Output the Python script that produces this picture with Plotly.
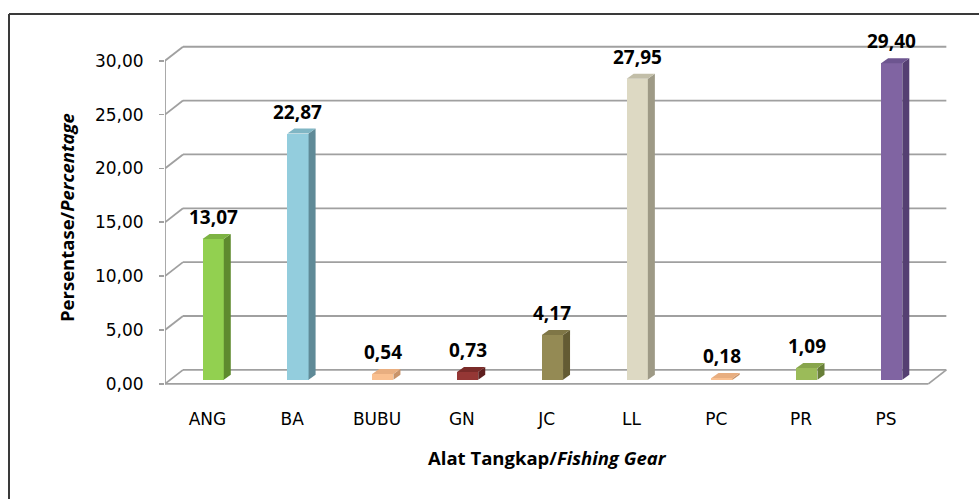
import plotly.graph_objects as go

# ---- data ----
categories = ["ANG", "BA", "BUBU", "GN", "JC", "LL", "PC", "PR", "PS"]
values = [13.07, 22.87, 0.54, 0.73, 4.17, 27.95, 0.18, 1.09, 29.40]
value_labels = ["13,07", "22,87", "0,54", "0,73", "4,17", "27,95", "0,18", "1,09", "29,40"]
y_ticks = [0, 5, 10, 15, 20, 25, 30]
y_tick_labels = ["0,00", "5,00", "10,00", "15,00", "20,00", "25,00", "30,00"]

front_colors = ["#92D050", "#93CDDD", "#FAC090", "#953735", "#948A54",
                "#DDD9C3", "#FAC090", "#9BBB59", "#8064A2"]
side_colors = ["#5E8A2E", "#5F8A97", "#C8936A", "#5E1F1E", "#635B33",
               "#9E9A86", "#C8936A", "#687F38", "#553F72"]
top_colors = ["#7DB343", "#80B6C4", "#E8AE80", "#7A2B29", "#7F7646",
              "#C2BEA8", "#E8AE80", "#88A54C", "#6D5590"]

# ---- layout geometry ----
W, H = 979, 499
ML, MR, MT, MB = 165, 32, 45, 113
XR = [-0.5, 8.72]
YR = [-0.2, 31.46]
pw, ph = W - ML - MR, H - MT - MB
kx = pw / (XR[1] - XR[0])
ky = ph / (YR[1] - YR[0])

DX = 18 / kx      # depth of wall (x units)
DY = 14 / ky      # depth of wall (y units)
BOFF_X = 0.068    # bar front offset from category centre
BASE = 4 / ky     # bar base lift (mid-depth)
BW = 0.25         # bar front width
BDX = 7 / kx      # bar depth x
BDY = 5 / ky      # bar depth y

GRID = "#A0A0A0"
shapes = []

def line(x0, y0, x1, y1, color=GRID, width=1.8):
    shapes.append(dict(type="line", xref="x", yref="y", x0=x0, y0=y0, x1=x1, y1=y1,
                       line=dict(color=color, width=width), layer="below"))

x_left = XR[0]
x_right = len(categories) - 0.5
for v in y_ticks:
    line(x_left + DX, v + DY, x_right + DX, v + DY)      # back wall gridline
    line(x_left, v, x_left + DX, v + DY)                  # side wall diagonal
line(x_left, 0, x_left, y_ticks[-1])                      # front value axis
line(x_left, 0, x_right, 0)                               # floor front edge
line(x_right, 0, x_right + DX, DY)                        # floor right edge

fig = go.Figure()

# front faces of bars
xs = [i + BOFF_X for i in range(len(categories))]
fig.add_trace(go.Bar(x=xs, y=values, base=[BASE] * len(values), width=BW,
                     marker=dict(color=front_colors, line=dict(width=0)),
                     hoverinfo="skip", showlegend=False))

annotations = []
for i, v in enumerate(values):
    x0 = xs[i] - BW / 2
    x1 = xs[i] + BW / 2
    yb = BASE
    yt = BASE + v
    # side face
    fig.add_trace(go.Scatter(x=[x1, x1 + BDX, x1 + BDX, x1, x1],
                             y=[yb, yb + BDY, yt + BDY, yt, yb],
                             fill="toself", fillcolor=side_colors[i], mode="lines",
                             line=dict(width=0, color=side_colors[i]),
                             hoverinfo="skip", showlegend=False))
    # top face
    fig.add_trace(go.Scatter(x=[x0, x1, x1 + BDX, x0 + BDX, x0],
                             y=[yt, yt, yt + BDY, yt + BDY, yt],
                             fill="toself", fillcolor=top_colors[i], mode="lines",
                             line=dict(width=0, color=top_colors[i]),
                             hoverinfo="skip", showlegend=False))
    annotations.append(dict(x=xs[i], y=yt + BDY, xref="x", yref="y",
                            text="<b>%s</b>" % value_labels[i], showarrow=False,
                            yanchor="middle", yshift=17,
                            font=dict(family="Open Sans", size=19, color="#000000")))

def px_x(p):
    return (p - ML) / pw

def px_y(p):
    return (MT + ph - p) / ph

annotations.append(dict(x=px_x(547), y=px_y(457), xref="paper", yref="paper",
                        text="<b>Alat Tangkap/<i>Fishing Gear</i></b>", showarrow=False,
                        xanchor="center", yanchor="middle",
                        font=dict(family="Open Sans", size=18.5, color="#000000")))
annotations.append(dict(x=px_x(66), y=px_y(217), xref="paper", yref="paper",
                        text="<b>Persentase/<i>Percentage</i></b>", showarrow=False,
                        textangle=-90, xanchor="center", yanchor="middle",
                        font=dict(family="Open Sans", size=18.5, color="#000000")))

# outer frame (left and top edges)
shapes.append(dict(type="line", xref="paper", yref="paper",
                   x0=px_x(9), y0=px_y(14), x1=px_x(W + 5), y1=px_y(14),
                   line=dict(color="#3A3A3A", width=2)))
shapes.append(dict(type="line", xref="paper", yref="paper",
                   x0=px_x(9), y0=px_y(14), x1=px_x(9), y1=px_y(H + 5),
                   line=dict(color="#3A3A3A", width=2)))

fig.update_layout(
    width=W, height=H, autosize=False,
    margin=dict(l=ML, r=MR, t=MT, b=MB, pad=0),
    paper_bgcolor="white", plot_bgcolor="white",
    font=dict(family="DejaVu Sans", color="#000000"),
    shapes=shapes, annotations=annotations,
    bargap=0,
    xaxis=dict(range=XR, tickmode="array", tickvals=list(range(len(categories))),
               ticktext=categories, showgrid=False, zeroline=False, showline=False,
               ticks="", ticklabelstandoff=21,
               tickfont=dict(family="DejaVu Sans", size=17, color="#000000"),
               fixedrange=True),
    yaxis=dict(range=YR, tickmode="array", tickvals=y_ticks, ticktext=y_tick_labels,
               showgrid=False, zeroline=False, showline=False,
               ticks="outside", ticklen=5, tickcolor=GRID, tickwidth=1.8,
               ticklabelstandoff=12,
               tickfont=dict(family="DejaVu Sans", size=17, color="#000000"),
               fixedrange=True),
)

fig.write_html("out.html", config={"displayModeBar": False, "staticPlot": True},
               post_script="document.body.style.margin='0';document.body.style.padding='0';"
                           "document.body.style.overflow='hidden';")
